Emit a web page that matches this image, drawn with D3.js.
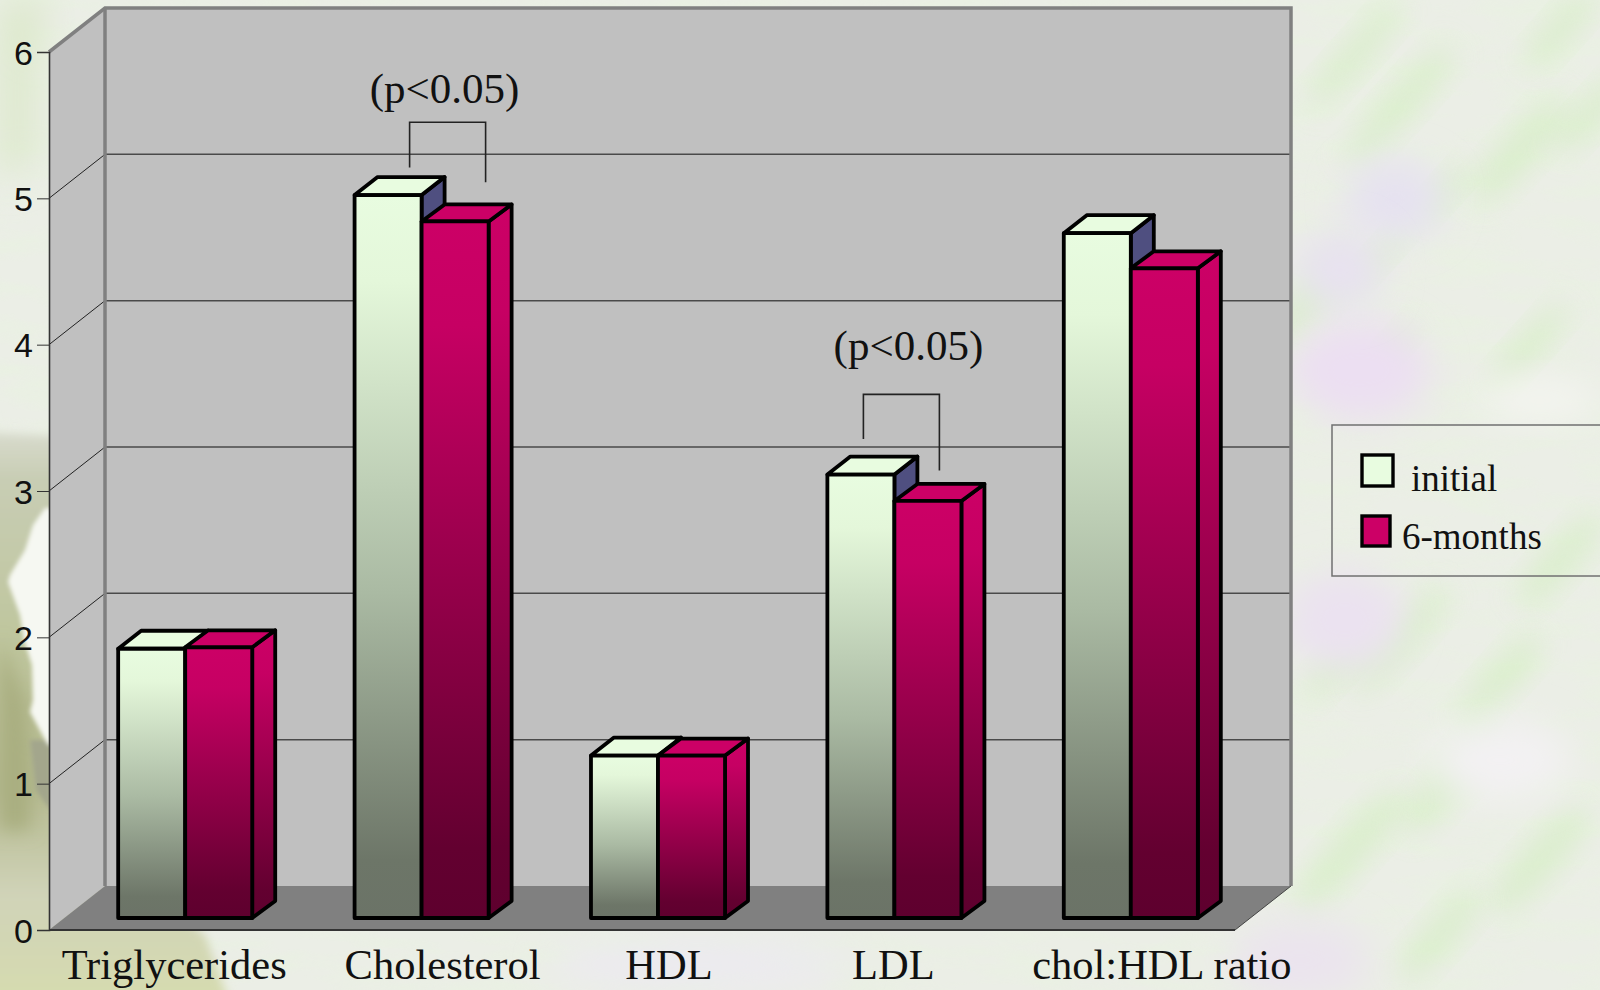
<!DOCTYPE html>
<html>
<head>
<meta charset="utf-8">
<title>Lipid profile</title>
<script src="https://cdn.jsdelivr.net/npm/d3@7"></script>
<style>
  html, body { margin: 0; padding: 0; background: #ecefe6; overflow: hidden; }
  svg { display: block; }
  .serif { font-family: "Liberation Serif", serif; fill: #111; }
  .sans { font-family: "Liberation Sans", sans-serif; fill: #111; }
</style>
</head>
<body>
<svg id="chart" width="1600" height="990"></svg>
<script>
// data
var categories = ["Triglycerides", "Cholesterol", "HDL", "LDL", "chol:HDL ratio"];
var seriesNames = ["initial", "6-months"];
var initialValues = [1.84, 4.94, 1.11, 3.03, 4.68];
var sixMonthValues = [1.85, 4.76, 1.11, 2.85, 4.44];
var yTicks = [0, 1, 2, 3, 4, 5, 6];

// significance brackets, in axis units
var pCategories = ["Cholesterol", "LDL"];
var pLabels = ["(p<0.05)", "(p<0.05)"];
var pLabelValues = [5.65, 3.895];
var bracketTops = [5.52, 3.66];
var bracketLeftEnds = [5.21, 3.355];
var bracketRightEnds = [5.11, 3.14];

var width = 1600, height = 990;
var svg = d3.select("#chart");
var defs = svg.append("defs");

// depth of the box and of the bars
var boxDx = 56, boxDy = 44;
var barDx = 23;
var barDy = { "initial": 18, "6-months": 17 };
var barFloorShift = 12;

var y = d3.scaleLinear().domain([0, 6]).range([930, 52]);
var x0 = d3.scaleBand().domain(categories).range([67, 1249]).paddingInner(0.433).paddingOuter(0.2165);
var x1 = d3.scaleBand().domain(seriesNames).range([0, x0.bandwidth()]);

var xLeft = 49, xRight = 1235;

function addGradient(id, stops) {
    var g = defs.append("linearGradient").attr("id", id).attr("x1", 0).attr("y1", 0).attr("x2", 0).attr("y2", 1);
    stops.forEach(function (s) {
        g.append("stop").attr("offset", s[0]).attr("stop-color", s[1]);
    });
}
addGradient("gradInitial", [[0, "#e8fce0"], [0.12, "#e4f7da"], [0.55, "#aabaa3"], [0.92, "#6d7668"], [1, "#6b7367"]]);
addGradient("gradSix", [[0, "#cc0066"], [0.15, "#c60063"], [0.9, "#630030"], [1, "#5e002e"]]);
addGradient("gradLeaf", [[0, "#d8dbcd"], [0.08, "#c8cdb4"], [0.35, "#bfc69e"], [0.62, "#b4b98f"], [0.8, "#d0d3b8"], [1, "#d6dcae"]]);

// blur filters for the paper background
[["blur18", 18], ["blur14", 14], ["blur9", 9], ["blur5", 5], ["blur2", 2]].forEach(function (f) {
    defs.append("filter").attr("id", f[0])
        .attr("x", "-50%").attr("y", "-50%").attr("width", "200%").attr("height", "200%")
        .append("feGaussianBlur").attr("stdDeviation", f[1]);
});
var grain = defs.append("filter").attr("id", "grain").attr("x", 0).attr("y", 0).attr("width", "100%").attr("height", "100%");
grain.append("feTurbulence").attr("type", "fractalNoise").attr("baseFrequency", "0.012 0.05").attr("numOctaves", 3).attr("seed", 7);
grain.append("feColorMatrix").attr("type", "matrix")
    .attr("values", "0 0 0 0 0.80  0 0 0 0 0.92  0 0 0 0 0.72  2.6 0 0 0 -1.05");

// background
var bg = svg.append("g");
bg.append("rect").attr("width", width).attr("height", height).attr("fill", "#ebeee6");
bg.append("rect").attr("width", width).attr("height", height).attr("filter", "url(#grain)").attr("opacity", 0.35);

// green streaks and lilac patches on the right side
var streaks = [
    [1355, 55, 70, 14], [1400, 105, 80, 16], [1520, 150, 70, 18], [1445, 190, 34, 11], [1380, 255, 40, 10],
    [1390, 350, 34, 10], [1530, 345, 55, 13], [1590, 115, 50, 14], [1560, 30, 50, 14], [1400, 640, 70, 16],
    [1500, 680, 60, 16], [1450, 780, 70, 18], [1350, 850, 80, 18], [1540, 860, 70, 18], [1440, 935, 60, 16],
    [1310, 300, 60, 18], [1560, 560, 60, 16], [1340, 660, 50, 14]
];
bg.selectAll("ellipse.streak").data(streaks).join("ellipse").attr("class", "streak")
    .attr("cx", function (d) { return d[0]; }).attr("cy", function (d) { return d[1]; })
    .attr("rx", function (d) { return d[2]; }).attr("ry", function (d) { return d[3]; })
    .attr("transform", function (d) { return "rotate(-48 " + d[0] + " " + d[1] + ")"; })
    .attr("fill", "#cdeeb8").attr("opacity", 0.55).attr("filter", "url(#blur14)");
var patches = [[1360, 370, 70, 50, "#ecdff2"], [1395, 200, 50, 40, "#e6e2f0"], [1340, 270, 45, 40, "#e8e2f0"], [1345, 620, 60, 50, "#ebe2f0"],
    [1540, 400, 60, 20, "#f4f5f0"], [1500, 760, 70, 40, "#f3f1f3"], [1300, 960, 70, 40, "#ebe4ee"], [700, 965, 150, 25, "#eceaf0"]];
bg.selectAll("ellipse.patch").data(patches).join("ellipse").attr("class", "patch")
    .attr("cx", function (d) { return d[0]; }).attr("cy", function (d) { return d[1]; })
    .attr("rx", function (d) { return d[2]; }).attr("ry", function (d) { return d[3]; })
    .attr("fill", function (d) { return d[4]; }).attr("filter", "url(#blur18)");

// the leaf in the lower left corner
var line = d3.line();
bg.append("path").attr("d", line([[0, 0], [50, 0], [34, 60], [34, 160], [0, 180]]) + "Z")
    .attr("fill", "#dce8ca").attr("filter", "url(#blur18)");
bg.append("path").attr("d", line([[-20, 432], [60, 436], [60, 820], [205, 935], [232, 1010], [-20, 1010]]) + "Z")
    .attr("fill", "url(#gradLeaf)").attr("filter", "url(#blur5)");
bg.append("path").attr("d", line([[0, 640], [26, 700], [30, 750], [30, 830], [0, 830]]) + "Z")
    .attr("fill", "#a9ae80").attr("filter", "url(#blur9)");
bg.append("path").attr("d", line([[30, 740], [50, 740], [50, 810], [36, 790]]) + "Z")
    .attr("fill", "#a3a68c").attr("filter", "url(#blur2)");
bg.append("path").attr("d", line([[45, 508], [33, 525], [25, 550], [10, 575], [8, 582], [20, 615], [24, 640], [32, 665], [33, 700], [30, 712], [48, 745], [52, 745], [52, 508]]) + "Z")
    .attr("fill", "#f6f8f2").attr("filter", "url(#blur2)");

// walls and floor of the box
var plot = svg.append("g");
plot.append("path").attr("fill", "#c0c0c0")
    .attr("d", line([[xLeft + boxDx, y(6) - boxDy], [xRight + boxDx, y(6) - boxDy], [xRight + boxDx, y(0) - boxDy], [xLeft + boxDx, y(0) - boxDy]]) + "Z");
plot.append("path").attr("fill", "#c0c0c0")
    .attr("d", line([[xLeft, y(6)], [xLeft + boxDx, y(6) - boxDy], [xLeft + boxDx, y(0) - boxDy], [xLeft, y(0)]]) + "Z");
plot.append("path").attr("fill", "#808080")
    .attr("d", line([[xLeft, y(0)], [xLeft + boxDx, y(0) - boxDy], [xRight + boxDx, y(0) - boxDy], [xRight, y(0)]]) + "Z");

// gridlines on the back wall and their diagonals on the side wall
var gridTicks = yTicks.slice(1, 6);
plot.selectAll("line.grid").data(gridTicks).join("line").attr("class", "grid")
    .attr("x1", xLeft + boxDx).attr("x2", xRight + boxDx)
    .attr("y1", function (d) { return y(d) - boxDy; }).attr("y2", function (d) { return y(d) - boxDy; })
    .attr("stroke", "#4a4a4a").attr("stroke-width", 1.5);
plot.selectAll("line.diag").data(gridTicks).join("line").attr("class", "diag")
    .attr("x1", xLeft).attr("x2", xLeft + boxDx)
    .attr("y1", function (d) { return y(d); }).attr("y2", function (d) { return y(d) - boxDy; })
    .attr("stroke", "#222").attr("stroke-width", 1);

// thick grey frame
plot.append("path").attr("fill", "none").attr("stroke", "#808080").attr("stroke-width", 3.5)
    .attr("d", line([[xLeft, y(6)], [xLeft + boxDx, y(6) - boxDy], [xRight + boxDx, y(6) - boxDy], [xRight + boxDx, y(0) - boxDy]]));
plot.append("line").attr("stroke", "#808080").attr("stroke-width", 3.5)
    .attr("x1", xLeft + boxDx).attr("x2", xLeft + boxDx).attr("y1", y(6) - boxDy).attr("y2", y(0) - boxDy);
plot.append("path").attr("fill", "none").attr("stroke", "#444").attr("stroke-width", 1)
    .attr("d", line([[xRight, y(0)], [xRight + boxDx, y(0) - boxDy]]));

// axes
var yAxis = d3.axisLeft(y).tickValues(yTicks).tickFormat(d3.format("d")).tickSize(12).tickPadding(4);
var yAxisG = svg.append("g").attr("transform", "translate(" + xLeft + ",0)").call(yAxis);
yAxisG.select(".domain").attr("stroke", "#333").attr("stroke-width", 1.6);
yAxisG.selectAll(".tick line").attr("stroke", "#333").attr("stroke-width", 1);
yAxisG.attr("font-size", 34).attr("font-family", "Liberation Sans");
yAxisG.selectAll("text").attr("class", "sans").attr("dy", "0.36em");

svg.append("line").attr("x1", xLeft).attr("x2", xRight).attr("y1", y(0)).attr("y2", y(0))
    .attr("stroke", "#333").attr("stroke-width", 1.8);

// bars
var barColors = {
    "initial": { front: "url(#gradInitial)", top: "#e8fce0", side: "#4f4f80" },
    "6-months": { front: "url(#gradSix)", top: "#cc0066", side: "url(#gradSix)" }
};
var barData = [];
categories.forEach(function (c, i) {
    barData.push({ cat: c, name: seriesNames[0], value: initialValues[i] });
    barData.push({ cat: c, name: seriesNames[1], value: sixMonthValues[i] });
});

var bars = svg.append("g").attr("stroke", "#000").attr("stroke-width", 3.8).attr("stroke-linejoin", "round");
bars.selectAll("g.bar").data(barData).join("g").attr("class", "bar").each(function (d) {
    var g = d3.select(this);
    var l = x0(d.cat) + x1(d.name), r = l + x1.bandwidth();
    var t = y(d.value) - barFloorShift, b = y(0) - barFloorShift;
    var dy = barDy[d.name];
    g.append("path").attr("fill", barColors[d.name].side)
        .attr("d", line([[r, t], [r + barDx, t - dy], [r + barDx, b - dy], [r, b]]) + "Z");
    g.append("path").attr("fill", barColors[d.name].top)
        .attr("d", line([[l, t], [l + barDx, t - dy], [r + barDx, t - dy], [r, t]]) + "Z");
    g.append("path").attr("fill", barColors[d.name].front)
        .attr("d", line([[l, t], [r, t], [r, b], [l, b]]) + "Z");
});

// category labels: in the picture they are loose text boxes, not centred on the bars
var labelNudge = [-11, 21, 11, -1, 31];
svg.selectAll("text.cat").data(categories).join("text").attr("class", "cat serif")
    .attr("x", function (d, i) { return x0(d) + x0.bandwidth() / 2 + labelNudge[i]; })
    .attr("y", 979).attr("text-anchor", "middle").attr("font-size", 42.5)
    .text(function (d) { return d; });

// p value brackets
var bracketOffsets = [[-12, 64], [-31, 45]];
var pLabelOffsets = [23, 14];
pCategories.forEach(function (c, i) {
    var mid = x0(c) + x0.bandwidth() / 2;
    svg.append("path").attr("fill", "none").attr("stroke", "#222").attr("stroke-width", 1.6)
        .attr("d", line([
            [mid + bracketOffsets[i][0], y(bracketLeftEnds[i])],
            [mid + bracketOffsets[i][0], y(bracketTops[i])],
            [mid + bracketOffsets[i][1], y(bracketTops[i])],
            [mid + bracketOffsets[i][1], y(bracketRightEnds[i])]
        ]));
    svg.append("text").attr("class", "serif")
        .attr("x", mid + pLabelOffsets[i]).attr("y", y(pLabelValues[i]))
        .attr("text-anchor", "middle").attr("font-size", 43)
        .text(pLabels[i]);
});

// legend, the box runs off the right edge
var legend = svg.append("g");
legend.append("rect").attr("x", 1332).attr("y", 425).attr("width", 300).attr("height", 151)
    .attr("fill", "none").attr("stroke", "#707070").attr("stroke-width", 1.5);
var legendFills = ["#e8fce0", "#cc0066"];
var legendBoxes = [[1362, 455, 31, 31], [1362, 516, 28, 30]];
var legendText = [[1411, 491], [1402, 549]];
seriesNames.forEach(function (name, i) {
    legend.append("rect").attr("x", legendBoxes[i][0]).attr("y", legendBoxes[i][1])
        .attr("width", legendBoxes[i][2]).attr("height", legendBoxes[i][3])
        .attr("fill", legendFills[i]).attr("stroke", "#000").attr("stroke-width", 3.4);
    legend.append("text").attr("class", "serif").attr("x", legendText[i][0]).attr("y", legendText[i][1])
        .attr("font-size", 37).text(name);
});
</script>
</body>
</html>
